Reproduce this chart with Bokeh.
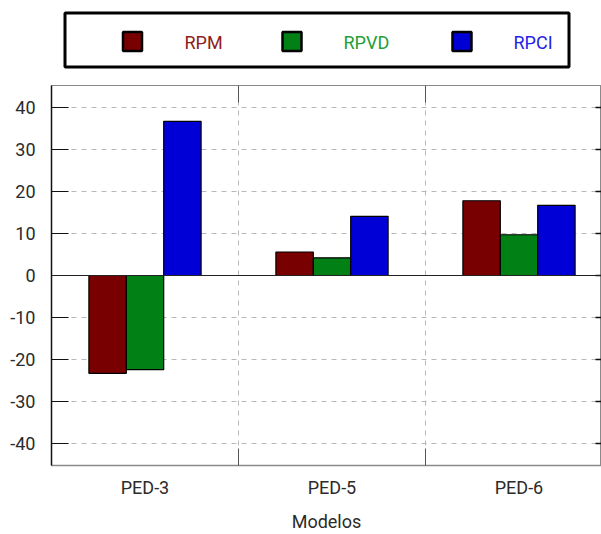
from bokeh.plotting import figure
from bokeh.models import FixedTicker, LinearAxis, Range1d, Span, ColumnDataSource
from bokeh.layouts import column
from bokeh.core.properties import value
from bokeh.embed import file_html
from bokeh.resources import INLINE

# --- data -------------------------------------------------------------
models = ["PED-3", "PED-5", "PED-6"]
series = ["RPM", "RPVD", "RPCI"]
rpm = [-23.3, 5.6, 17.8]
rpvd = [-22.4, 4.2, 9.7]
rpci = [36.7, 14.1, 16.7]
bar_colors = ["#780000", "#008015", "#0000d6"]
text_colors = ["#8e1c1c", "#22a035", "#2424e6"]
y_ticks = [-40, -30, -20, -10, 0, 10, 20, 30, 40]
y_tick_labels = ["-40", "-30", "-20", "-10", "0", "10", "20", "30", "40"]

FONT = "Roboto"
TEXT = "#2b2b2b"
GRID = "#b8b8b8"

plot_w, border_left = 601, 51

# --- legend strip (its frame lines up with the chart frame below) ------
leg = figure(width=plot_w, height=75, x_range=Range1d(border_left, plot_w),
             y_range=Range1d(75, 0), x_axis_type=None, y_axis_type=None,
             toolbar_location=None, output_backend="svg", min_border=0,
             min_border_left=border_left, min_border_right=0)
leg.outline_line_color = None
leg.xgrid.visible = False
leg.ygrid.visible = False
leg.quad(left=[64.5], right=[568.5], top=[12.5], bottom=[66.5],
         fill_color=None, line_color="black", line_width=3)
sq_x = [132, 291.5, 461.5]
txt_x = [184, 343, 513]
leg.rect(x=sq_x, y=[41, 41, 41], width=19, height=19, fill_color=bar_colors,
         line_color="black", line_width=2.5)
leg.text(x=txt_x, y=[42, 42, 42], text=series, text_color=text_colors,
         text_font=value(FONT), text_font_size="18px", text_baseline="middle")

# --- main chart -------------------------------------------------------
cat_px = 187.0                      # pixel width of one model slot
x_end = (plot_w - border_left) / cat_px

p = figure(width=plot_w, height=459, x_range=Range1d(0, x_end),
           y_range=Range1d(-45.24, 45.24), toolbar_location=None,
           output_backend="svg", min_border_left=border_left,
           min_border_right=0, min_border_top=10, min_border_bottom=60)
p.outline_line_color = "#8a8a8a"
p.outline_line_width = 1

centers = [i + 0.5 for i in range(len(models))]
seps = [float(i) for i in range(1, len(models))]
width = 0.2
for vals, off, col in zip([rpm, rpvd, rpci], [-0.2, 0.0, 0.2], bar_colors):
    src = ColumnDataSource(dict(x=[c + off for c in centers], top=vals))
    p.vbar(x="x", top="top", bottom=0, width=width, source=src,
           fill_color=col, line_color="black", line_width=1.2)

# zero line
p.add_layout(Span(location=0, dimension="width", line_color="#222222", line_width=1.2))

# grids
p.ygrid.ticker = FixedTicker(ticks=y_ticks)
p.ygrid.grid_line_color = GRID
p.ygrid.grid_line_dash = "5 5"
p.xgrid.ticker = FixedTicker(ticks=seps)
p.xgrid.grid_line_color = GRID
p.xgrid.grid_line_dash = "5 5"

# bottom axis: model labels at slot centres, inward ticks at slot edges
xa = p.xaxis[0]
xa.ticker = FixedTicker(ticks=centers, minor_ticks=seps)
xa.major_label_overrides = {c: m for c, m in zip(centers, models)}
xa.major_tick_line_color = None
xa.minor_tick_in = 17
xa.minor_tick_out = 0
xa.minor_tick_line_color = "#555555"
xa.axis_line_color = "#8a8a8a"
xa.axis_line_width = 1.5
xa.major_label_standoff = 5
xa.major_label_text_font = FONT
xa.major_label_text_font_size = "18px"
xa.major_label_text_color = TEXT
xa.axis_label = "Modelos"
xa.axis_label_text_font = FONT
xa.axis_label_text_font_size = "18px"
xa.axis_label_text_font_style = "normal"
xa.axis_label_text_color = TEXT
xa.axis_label_standoff = 10

# top axis: only the inward ticks at slot edges
top = LinearAxis(ticker=FixedTicker(ticks=[], minor_ticks=seps))
top.major_tick_line_color = None
top.major_label_standoff = 0
top.minor_tick_in = 17
top.minor_tick_out = 0
top.minor_tick_line_color = "#555555"
top.axis_line_color = "#8a8a8a"
p.add_layout(top, "above")

# left axis
ya = p.yaxis[0]
ya.ticker = FixedTicker(ticks=y_ticks)
ya.major_label_overrides = {t: s for t, s in zip(y_ticks, y_tick_labels)}
ya.major_tick_in = 17
ya.major_tick_out = 0
ya.major_tick_line_color = "#111111"
ya.minor_tick_line_color = None
ya.axis_line_color = "#111111"
ya.axis_line_width = 1.5
ya.major_label_standoff = 16
ya.major_label_text_font = FONT
ya.major_label_text_font_size = "18px"
ya.major_label_text_color = TEXT

# inward tick stubs of the right-hand axis, which sits just past the edge
tick_len = 17 / cat_px
right_edge = 3.0
p.segment(x0=[right_edge - tick_len] * len(y_ticks), x1=[right_edge] * len(y_ticks),
          y0=y_ticks, y1=y_ticks, line_color="#111111", line_width=1.5)

layout = column(leg, p, spacing=0)
open("out.html", "w").write(file_html(layout, INLINE))
